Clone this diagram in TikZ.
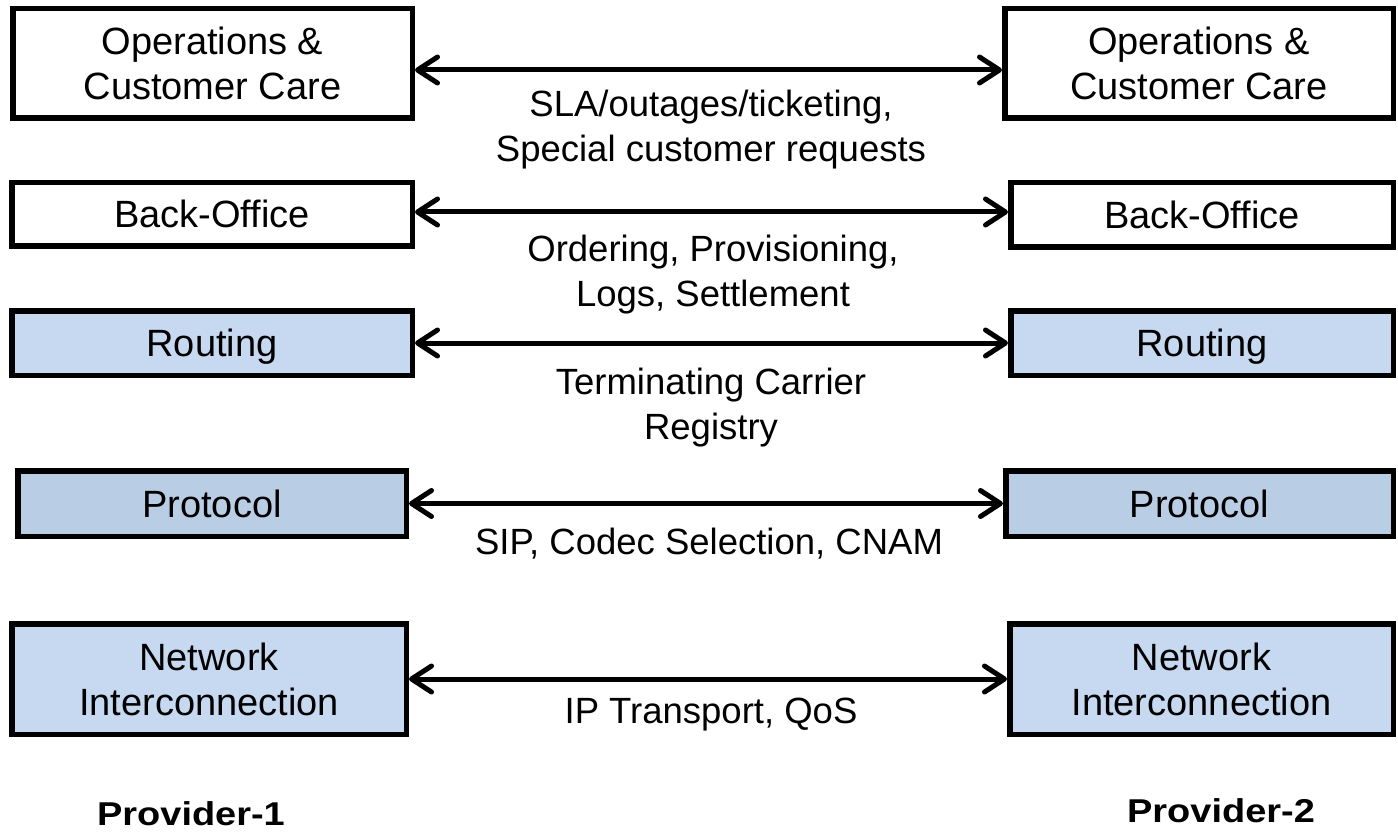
\documentclass[tikz,border=0pt]{standalone}
\usepackage{fontspec}
\setmainfont{Liberation Sans}
\newfontfamily\provfont[FakeStretch=1.15]{Liberation Sans}
\usetikzlibrary{arrows.meta}
\definecolor{layerblue}{HTML}{C6D9F1}
\definecolor{protoblue}{HTML}{B9CDE5}
\begin{document}
\begin{tikzpicture}[x=1pt,y=-1pt,
  box/.style={draw=black, line width=5.5pt, inner sep=0pt, align=center,
    font=\fontsize{38}{45}\selectfont},
  oneline/.style={text height=27pt, text depth=0pt},
  lbl/.style={inner sep=0pt, align=center, font=\fontsize{36.5}{45}\selectfont},
  prov/.style={inner sep=0pt, font=\provfont\bfseries\fontsize{33}{40}\selectfont},
  link/.style={line width=5pt,
    {Straight Barb[length=20pt,width=26pt,round]}-{Straight Barb[length=20pt,width=26pt,round]}}]
\useasboundingbox (0,0) rectangle (1398,837);
% left column
\node[box, fill=white, minimum width=399.5pt, minimum height=109.5pt] (opsL) at (212.5,63.5) {Operations \&\\Customer Care};
\node[box, oneline, fill=white, minimum width=400.5pt, minimum height=63.5pt] (boL) at (212,214.5) {Back-Office};
\node[box, oneline, fill=layerblue, minimum width=400.5pt, minimum height=64.5pt] (rtL) at (212,343) {Routing};
\node[box, oneline, fill=protoblue, minimum width=388.5pt, minimum height=65.5pt] (prL) at (212,503.5) {Protocol};
\node[box, fill=layerblue, minimum width=394.5pt, minimum height=110.5pt] (nwL) at (209,679) {Network\\Interconnection};
% right column
\node[box, fill=white, minimum width=388.5pt, minimum height=109.5pt] (opsR) at (1199,63.5) {Operations \&\\Customer Care};
\node[box, oneline, fill=white, minimum width=382.5pt, minimum height=64.5pt] (boR) at (1202,215) {Back-Office};
\node[box, oneline, fill=layerblue, minimum width=382.5pt, minimum height=64.5pt] (rtR) at (1202,343) {Routing};
\node[box, oneline, fill=protoblue, minimum width=387.5pt, minimum height=65.5pt] (prR) at (1199.5,503.5) {Protocol};
\node[box, fill=layerblue, minimum width=383.5pt, minimum height=110.5pt] (nwR) at (1201.5,679) {Network\\Interconnection};
% connectors
\draw[link] ([yshift=-6.5pt]opsL.east) -- ([yshift=-6.5pt]opsR.west);
\draw[link] ([yshift=2.5pt]boL.east) -- ([yshift=3pt]boR.west);
\draw[link] (rtL.east) -- (rtR.west);
\draw[link] (prL.east) -- (prR.west);
\draw[link] (nwL.east) -- (nwR.west);
% labels (base = baseline of the last line)
\node[lbl, anchor=base] (l1) at (711,162) {SLA/outages/ticketing,\\Special customer requests};
\node[lbl, anchor=base] (l2) at (713,306) {Ordering, Provisioning,\\Logs, Settlement};
\node[lbl, anchor=base] (l3) at (711,439) {Terminating Carrier\\Registry};
\node[lbl, anchor=base] (l4) at (709,554) {SIP, Codec Selection, CNAM};
\node[lbl, anchor=base] (l5) at (711,723) {IP Transport, QoS};
\node[prov, anchor=base] (p1) at (191,825) {Provider-1};
\node[prov, anchor=base] (p2) at (1221,822) {Provider-2};
\end{tikzpicture}
\end{document}
